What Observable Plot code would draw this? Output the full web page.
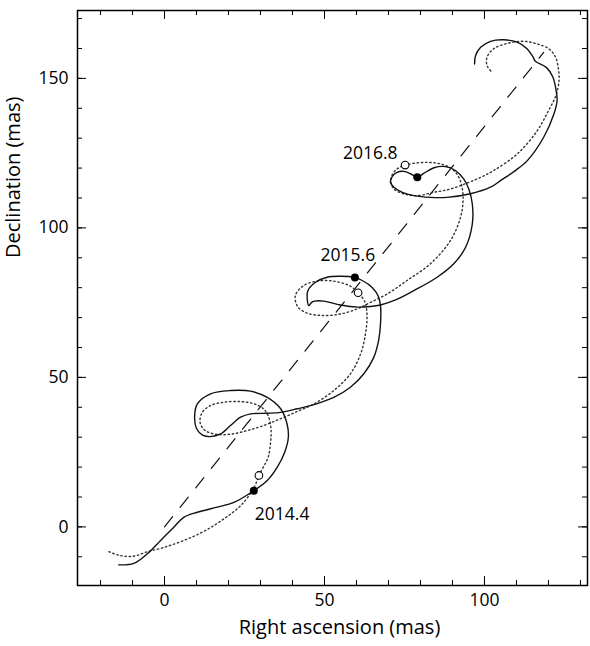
<!DOCTYPE html>
<html>
<head>
<meta charset="utf-8">
<script src="https://cdn.jsdelivr.net/npm/d3@7"></script>
<script src="https://cdn.jsdelivr.net/npm/@observablehq/plot@0.6"></script>
<style>
  html, body { margin: 0; padding: 0; background: #fff; }
</style>
</head>
<body>
<div id="chart"></div>
<script>
// ---- Data (mas) ----
// Solid path (fitted astrometric path with orbital motion)
const solidRA = [-14.3,-9.6,-5.4,-1.3,2.9,6.0,10.2,16.5,21.7,27.9,32.1,35.2,37.5,38.7,38.3,36.3,32.1,26.9,20.6,14.4,10.3,9.4,10.0,11.9,14.4,17.5,20.6,23.8,26.9,32.1,36.3,41.5,46.7,52.9,58.1,62.3,65.4,66.9,67.5,67.5,66.7,64.9,61.8,59.5,55.0,50.8,47.2,44.8,44.6,45.1,45.9,46.9,49.8,55.0,60.2,64.4,67.5,72.2,77.9,85.2,90.4,94.1,96.2,96.2,95.1,93.5,90.9,87.8,84.2,81.0,79.0,76.9,74.8,72.7,71.2,70.6,71.7,74.3,77.9,83.1,88.3,95.6,101.9,105.0,109.4,113.4,118.5,121.7,122.7,122.3,121.3,119.4,115.9,115.2,113.3,110.2,106.0,101.9,98.8,97.2,96.9];
const solidDec = [-12.7,-12.2,-9.0,-4.6,-0.1,3.2,4.9,6.6,8.2,12.1,15.5,19.9,24.8,30.0,34.4,39.5,43.3,45.4,45.6,44.5,41.2,36.7,32.9,30.7,30.2,31.1,33.9,36.7,37.8,38.0,38.3,39.5,40.9,43.3,46.7,51.2,56.7,62.3,67.9,74.0,77.4,80.1,82.4,83.4,83.8,83.5,81.8,79.0,76.3,74.0,75.0,75.5,75.5,74.2,73.5,73.7,74.2,75.9,79.0,83.5,88.0,93.5,101.3,108.0,113.0,116.4,119.2,120.5,120.1,118.2,116.9,118.1,118.9,118.6,117.2,115.3,113.6,111.9,110.8,110.2,110.2,111.4,113.6,115.8,119.0,122.5,130.3,138.1,142.6,146.6,150.6,153.6,155.7,157.1,159.9,162.1,162.9,162.4,160.4,157.6,154.8];

// Dotted path (parallax + proper motion only)
const dottedRA = [-17.4,-13.8,-9.6,-5.4,-0.3,5.9,12.8,19.1,23.8,26.6,28.4,29.5,31.0,32.4,33.1,33.3,32.6,31.0,27.9,23.8,18.5,14.4,11.8,11.1,12.5,15.9,20.6,25.8,31.0,36.3,41.5,46.7,52.9,58.1,61.3,62.8,63.3,62.8,61.6,60.5,58.1,52.9,47.7,43.5,40.9,41.6,44.6,49.8,55.0,60.2,64.4,69.6,75.8,83.1,89.4,92.5,93.3,93.0,92.0,89.9,86.3,82.1,77.9,75.2,72.8,71.2,70.8,71.7,74.8,79.0,84.2,89.4,94.6,98.8,102.9,110.2,116.5,120.0,122.3,123.3,123.1,122.2,120.1,116.5,112.3,107.1,102.9,100.8,100.8,102.4];
const dottedDec = [-8.3,-9.6,-9.8,-8.3,-6.9,-4.6,-1.2,3.1,7.1,10.8,14.1,17.2,20.2,23.3,27.8,32.2,36.6,39.4,41.2,41.9,41.7,40.6,38.3,35.0,32.4,31.0,31.0,32.2,33.9,36.2,38.6,41.1,45.6,51.2,57.9,64.5,70.1,74.7,77.0,78.3,80.5,82.2,82.2,80.7,77.4,73.7,71.5,70.7,71.2,72.9,75.1,77.9,82.4,88.0,95.8,103.5,109.1,113.6,116.9,119.7,121.4,121.9,121.6,121.0,119.8,117.8,115.2,113.0,111.4,110.8,111.9,113.0,115.0,116.9,119.2,124.7,132.5,139.2,144.2,149.3,153.3,157.1,159.9,161.5,162.4,161.7,159.9,157.1,154.3,152.0];

// Dashed line (proper motion direction)
const dashRA = [0, 118.5];
const dashDec = [0, 158.7];

// Epoch markers
const epochs = ["2014.4", "2015.6", "2016.8"];
const obsRA = [27.9, 59.5, 79.0];     // filled dots
const obsDec = [12.1, 83.4, 116.9];
const predRA = [29.5, 60.5, 75.2];    // open circles
const predDec = [17.2, 78.3, 121.0];

// Axes
const xDomain = [-27.2, 132.2];
const yDomain = [-19.6, 172.7];
const xTicks = [-20, -10, 0, 10, 20, 30, 40, 50, 60, 70, 80, 90, 100, 110, 120, 130];
const yTicks = [-10, 0, 10, 20, 30, 40, 50, 60, 70, 80, 90, 100, 110, 120, 130, 140, 150, 160, 170];
const xMajor = [0, 50, 100];
const yMajor = [0, 50, 100, 150];
const xTitle = "Right ascension (mas)";
const yTitle = "Declination (mas)";

// ---- Layout ----
const W = 590, H = 646, mL = 77, mR = 3, mT = 10, mB = 61;
const innerW = W - mL - mR, innerH = H - mT - mB;
const minorLen = 5, majorLen = 9;
const idx = a => a.map((_, i) => i);

const chart = Plot.plot({
  width: W,
  height: H,
  marginLeft: mL,
  marginRight: mR,
  marginTop: mT,
  marginBottom: mB,
  x: { domain: xDomain, axis: null },
  y: { domain: yDomain, axis: null },
  style: { fontFamily: "'Open Sans', 'Noto Sans', sans-serif", background: "#fff", color: "#000", overflow: "visible" },
  marks: [
    // inward ticks: bottom, top, left, right
    Plot.tickX(xTicks, { x: d => d, insetTop: innerH - minorLen, stroke: "#000", strokeWidth: 1 }),
    Plot.tickX(xMajor, { x: d => d, insetTop: innerH - majorLen, stroke: "#000", strokeWidth: 1 }),
    Plot.tickX(xTicks, { x: d => d, insetBottom: innerH - minorLen, stroke: "#000", strokeWidth: 1 }),
    Plot.tickX(xMajor, { x: d => d, insetBottom: innerH - majorLen, stroke: "#000", strokeWidth: 1 }),
    Plot.tickY(yTicks, { y: d => d, insetRight: innerW - minorLen, stroke: "#000", strokeWidth: 1 }),
    Plot.tickY(yMajor, { y: d => d, insetRight: innerW - majorLen, stroke: "#000", strokeWidth: 1 }),
    Plot.tickY(yTicks, { y: d => d, insetLeft: innerW - minorLen, stroke: "#000", strokeWidth: 1 }),
    Plot.tickY(yMajor, { y: d => d, insetLeft: innerW - majorLen, stroke: "#000", strokeWidth: 1 }),
    Plot.frame({ stroke: "#000", strokeWidth: 1.5 }),

    // tick labels
    Plot.text(xMajor, { x: d => d, text: d => String(d), frameAnchor: "bottom", dy: 20, fontSize: 17.5, fill: "#000" }),
    Plot.text(yMajor, { y: d => d, text: d => String(d), frameAnchor: "left", dx: -9, textAnchor: "end", fontSize: 17.5, fill: "#000" }),

    // axis titles
    Plot.text([xTitle], { frameAnchor: "bottom", dx: 7, dy: 48, fontSize: 20, fill: "#000" }),
    Plot.text([yTitle], { frameAnchor: "left", rotate: -90, dx: -64, dy: -40, fontSize: 20, fill: "#000" }),

    // proper-motion dashed line
    Plot.line(idx(dashRA), { x: i => dashRA[i], y: i => dashDec[i], stroke: "#111", strokeWidth: 1.2, strokeDasharray: "13,12" }),

    // dotted path
    Plot.line(idx(dottedRA), { x: i => dottedRA[i], y: i => dottedDec[i], curve: "catmull-rom", stroke: "#333", strokeWidth: 1.4, strokeDasharray: "1.4,2.8" }),

    // solid path
    Plot.line(idx(solidRA), { x: i => solidRA[i], y: i => solidDec[i], curve: "catmull-rom", stroke: "#111", strokeWidth: 1.4 }),

    // epoch markers
    Plot.dot(idx(predRA), { x: i => predRA[i], y: i => predDec[i], r: 3.8, fill: "#fff", stroke: "#000", strokeWidth: 1.1 }),
    Plot.dot(idx(obsRA), { x: i => obsRA[i], y: i => obsDec[i], r: 4, fill: "#000", stroke: "none" }),

    // epoch labels
    Plot.text([0], { x: i => obsRA[i], y: i => obsDec[i], text: i => epochs[i], textAnchor: "start", dx: 1, dy: 24, fontSize: 17.5, fill: "#000" }),
    Plot.text([1], { x: i => obsRA[i], y: i => obsDec[i], text: i => epochs[i], textAnchor: "middle", dx: -7, dy: -22, fontSize: 17.5, fill: "#000" }),
    Plot.text([2], { x: i => obsRA[i], y: i => obsDec[i], text: i => epochs[i], textAnchor: "middle", dx: -47, dy: -24, fontSize: 17.5, fill: "#000" })
  ]
});

document.getElementById("chart").appendChild(chart);
</script>
</body>
</html>
